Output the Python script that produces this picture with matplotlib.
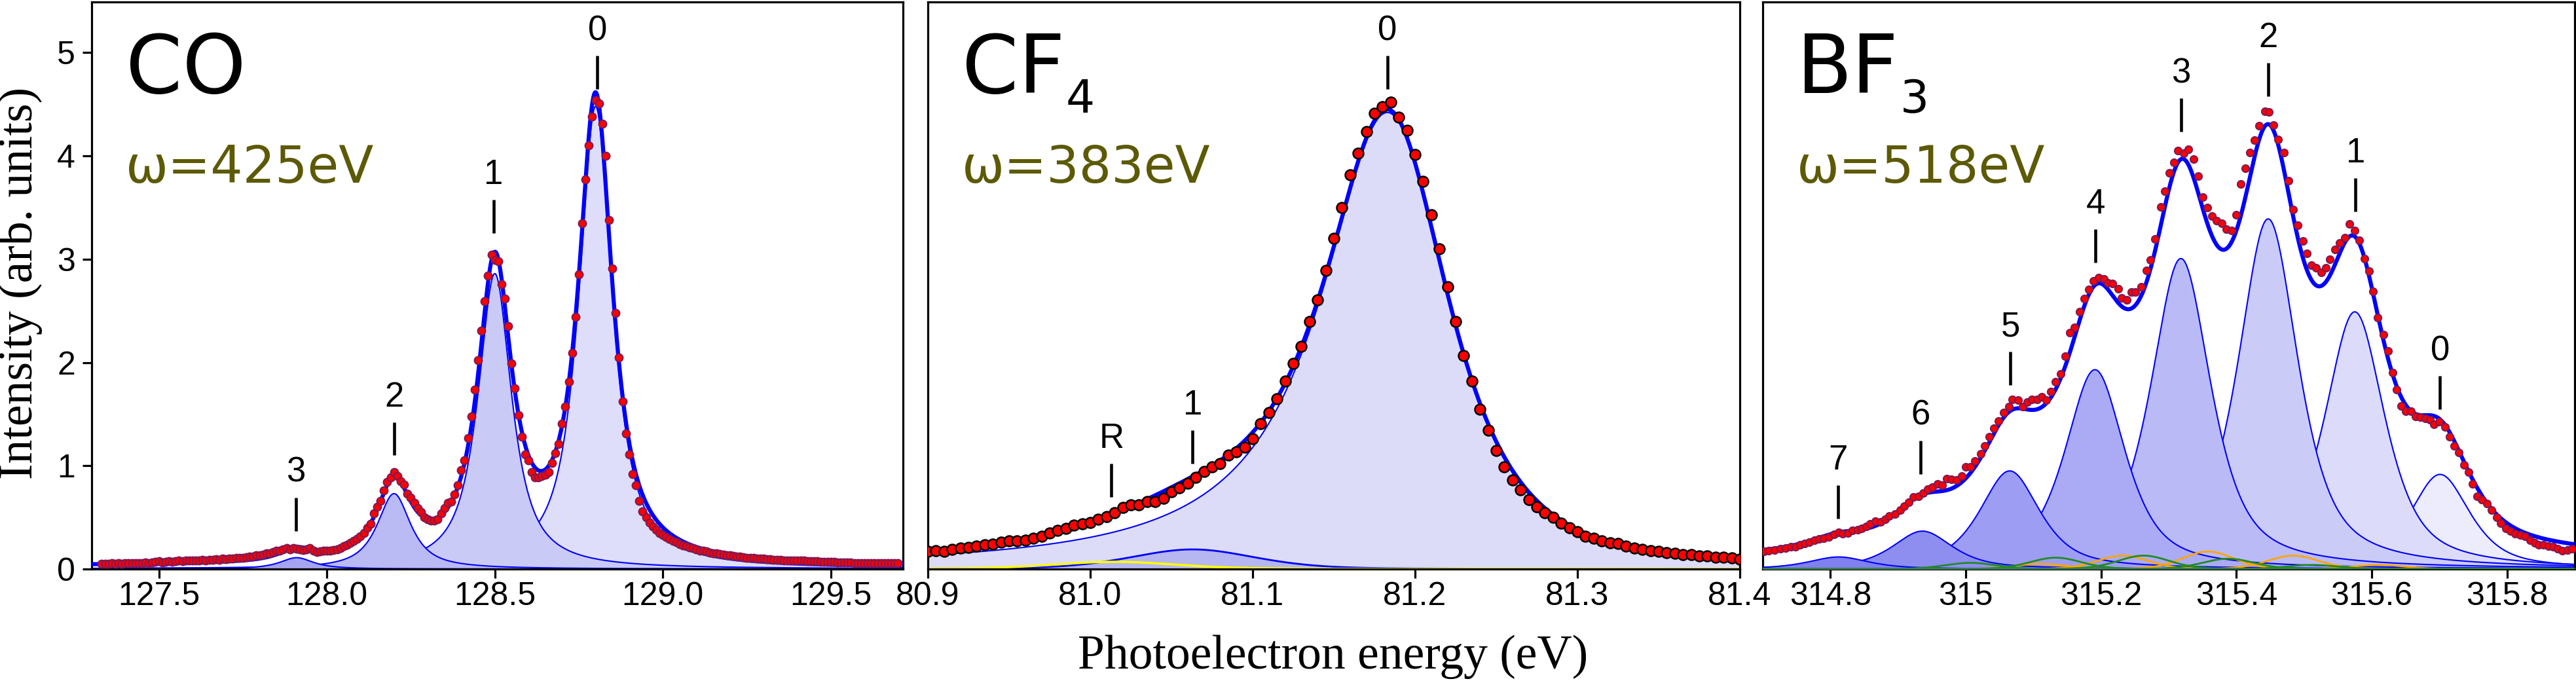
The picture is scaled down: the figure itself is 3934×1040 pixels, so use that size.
import numpy as np
import matplotlib
matplotlib.use("Agg")
import matplotlib.pyplot as plt

# ---------------- CO, omega = 425 eV ----------------
co_e = np.round(np.arange(127.33, 129.705, 0.01), 2)
co_int = [
    0.050, 0.050, 0.050, 0.055, 0.050, 0.055, 0.050, 0.055, 0.060, 0.055,
    0.060, 0.060, 0.060, 0.065, 0.060, 0.065, 0.070, 0.075, 0.065, 0.070,
    0.075, 0.070, 0.075, 0.080, 0.075, 0.080, 0.080, 0.085, 0.080, 0.085,
    0.090, 0.085, 0.090, 0.090, 0.095, 0.090, 0.100, 0.095, 0.100, 0.100,
    0.105, 0.110, 0.110, 0.115, 0.120, 0.120, 0.130, 0.135, 0.140, 0.150,
    0.155, 0.165, 0.175, 0.180, 0.190, 0.200, 0.190, 0.200, 0.195, 0.190,
    0.185, 0.190, 0.200, 0.175, 0.165, 0.170, 0.175, 0.180, 0.180, 0.185,
    0.190, 0.205, 0.220, 0.235, 0.255, 0.270, 0.290, 0.320, 0.350, 0.400,
    0.440, 0.540, 0.600, 0.660, 0.760, 0.840, 0.890, 0.940, 0.900, 0.850,
    0.820, 0.730, 0.690, 0.640, 0.590, 0.550, 0.500, 0.480, 0.470, 0.470,
    0.480, 0.540, 0.590, 0.640, 0.650, 0.720, 0.810, 0.960, 1.050, 1.270,
    1.480, 1.740, 2.020, 2.310, 2.590, 2.840, 3.040, 2.990, 2.980, 2.760,
    2.620, 2.350, 1.990, 1.750, 1.490, 1.280, 1.110, 1.050, 0.940, 0.890,
    0.890, 0.900, 0.910, 0.940, 1.030, 1.120, 1.210, 1.410, 1.570, 1.810,
    2.090, 2.440, 2.850, 3.350, 3.770, 4.100, 4.380, 4.540, 4.510, 4.310,
    4.000, 3.380, 2.910, 2.480, 2.050, 1.620, 1.310, 1.110, 0.920, 0.810,
    0.660, 0.560, 0.500, 0.450, 0.410, 0.380, 0.350, 0.330, 0.310, 0.290,
    0.270, 0.260, 0.240, 0.230, 0.220, 0.210, 0.200, 0.190, 0.180, 0.175,
    0.170, 0.160, 0.155, 0.150, 0.145, 0.140, 0.135, 0.130, 0.125, 0.120,
    0.120, 0.115, 0.110, 0.110, 0.105, 0.100, 0.100, 0.100, 0.095, 0.095,
    0.090, 0.090, 0.090, 0.085, 0.085, 0.085, 0.080, 0.080, 0.080, 0.080,
    0.075, 0.075, 0.075, 0.075, 0.070, 0.070, 0.070, 0.070, 0.070, 0.065,
    0.065, 0.065, 0.065, 0.065, 0.060, 0.060, 0.060, 0.060, 0.060, 0.060,
    0.060, 0.060, 0.055, 0.055, 0.055, 0.055, 0.055, 0.055,
]
# fitted vibrational components v = 0..3 (pseudo-Voigt)
co_pos = [128.80, 128.50, 128.20, 127.91]
co_height = [4.48, 2.86, 0.73, 0.11]
co_hwhm = 0.06
co_eta = 0.9
co_bg = 0.03
co_lab = ["0", "1", "2", "3"]
co_lab_x = [128.805, 128.497, 128.200, 127.908]
co_lab_y = [4.645, 3.25, 1.10, 0.37]   # bottom of the marker bar

# ---------------- CF4, omega = 383 eV ----------------
cf4_e = np.round(np.arange(80.900, 81.4001, 0.005), 3)
cf4_int = [
    0.170, 0.178, 0.170, 0.191, 0.204, 0.212, 0.220, 0.233, 0.241, 0.258,
    0.271, 0.271, 0.279, 0.296, 0.317, 0.346, 0.372, 0.393, 0.422, 0.435,
    0.452, 0.481, 0.506, 0.548, 0.599, 0.620, 0.624, 0.653, 0.653, 0.687,
    0.750, 0.784, 0.830, 0.885, 0.947, 0.990, 1.019, 1.103, 1.137, 1.179,
    1.263, 1.410, 1.515, 1.649, 1.822, 1.990, 2.158, 2.397, 2.607, 2.893,
    3.200, 3.498, 3.818, 4.028, 4.234, 4.410, 4.478, 4.519, 4.372, 4.246,
    4.015, 3.750, 3.431, 3.099, 2.733, 2.397, 2.065, 1.822, 1.548, 1.347,
    1.149, 0.990, 0.863, 0.767, 0.674, 0.603, 0.548, 0.498, 0.443, 0.401,
    0.359, 0.317, 0.296, 0.275, 0.254, 0.246, 0.220, 0.204, 0.191, 0.178,
    0.170, 0.161, 0.149, 0.141, 0.141, 0.128, 0.128, 0.115, 0.115, 0.107,
    0.098,
]
# main line (asymmetric), v=1 and recapture (R) components
cf4_main = dict(c=81.183, h=4.42, wl=0.050, pl=1.0, wr=0.060, pr=1.6)
cf4_v1 = dict(c=81.063, h=0.19, w=0.045, eta=0.3)
cf4_r = dict(c=81.015, h=0.07, w=0.045, eta=0.3)
cf4_bg = 0.02
cf4_lab = ["0", "1", "R"]
cf4_lab_x = [81.183, 81.063, 81.013]
cf4_lab_y = [4.645, 1.02, 0.70]

# ---------------- BF3, omega = 518 eV ----------------
bf3_e = [
    314.702, 314.709, 314.717, 314.726, 314.734, 314.742, 314.748, 314.755, 314.762, 314.769,
    314.776, 314.783, 314.790, 314.798, 314.805, 314.812, 314.818, 314.826, 314.833, 314.840,
    314.846, 314.853, 314.859, 314.866, 314.874, 314.881, 314.887, 314.895, 314.903, 314.909,
    314.916, 314.923, 314.930, 314.937, 314.944, 314.951, 314.958, 314.965, 314.972, 314.979,
    314.986, 314.994, 315.000, 315.007, 315.014, 315.022, 315.028, 315.035, 315.042, 315.048,
    315.056, 315.064, 315.069, 315.077, 315.084, 315.091, 315.098, 315.105, 315.112, 315.119,
    315.126, 315.133, 315.140, 315.147, 315.154, 315.161, 315.168, 315.175, 315.182, 315.189,
    315.196, 315.204, 315.210, 315.217, 315.225, 315.230, 315.238, 315.245, 315.251, 315.259,
    315.267, 315.273, 315.280, 315.288, 315.294,
    315.301, 315.308, 315.314, 315.322, 315.329, 315.337, 315.344, 315.350, 315.357, 315.364,
    315.371, 315.378, 315.385, 315.393, 315.400, 315.406, 315.413, 315.420, 315.427, 315.434,
    315.442, 315.448, 315.455, 315.462, 315.470, 315.477, 315.484, 315.491, 315.498, 315.504,
    315.511, 315.518, 315.525, 315.532, 315.538, 315.546, 315.553, 315.560, 315.567, 315.575,
    315.582, 315.589, 315.596, 315.602, 315.609, 315.617, 315.624, 315.631, 315.637, 315.644,
    315.650, 315.658, 315.665, 315.672, 315.679, 315.686, 315.692, 315.700, 315.708, 315.715,
    315.722, 315.729, 315.736, 315.743, 315.749, 315.756, 315.763, 315.770, 315.777, 315.785,
    315.791, 315.798, 315.805, 315.812, 315.820, 315.826, 315.834, 315.841, 315.847, 315.854,
    315.861, 315.868, 315.875, 315.882, 315.889, 315.896,
]
bf3_int = [
    0.174, 0.180, 0.183, 0.195, 0.204, 0.213, 0.218, 0.233, 0.248, 0.263,
    0.277, 0.289, 0.298, 0.313, 0.336, 0.357, 0.343, 0.351, 0.372, 0.381,
    0.395, 0.410, 0.440, 0.463, 0.454, 0.484, 0.514, 0.534, 0.573, 0.611,
    0.646, 0.699, 0.705, 0.735, 0.773, 0.794, 0.824, 0.809, 0.874, 0.868,
    0.862, 0.903, 0.986, 0.992, 1.045, 1.118, 1.192, 1.281, 1.363, 1.434,
    1.517, 1.570, 1.641, 1.635, 1.570, 1.614, 1.644, 1.644, 1.670, 1.635,
    1.717, 1.812, 1.892, 2.063, 2.290, 2.337, 2.491, 2.617, 2.709, 2.791,
    2.821, 2.809, 2.771, 2.762, 2.712, 2.623, 2.608, 2.682, 2.682, 2.732,
    2.889, 2.992, 3.193, 3.508, 3.656,
    3.835, 3.937, 4.049, 4.025, 4.066, 3.971, 3.801, 3.601, 3.499, 3.414,
    3.370, 3.346, 3.292, 3.278, 3.431, 3.727, 3.879, 4.032, 4.151, 4.293,
    4.433, 4.422, 4.297, 4.161, 4.032, 3.760, 3.479, 3.326, 3.177, 3.054,
    2.939, 2.919, 2.871, 2.919, 2.997, 3.092, 3.156, 3.207, 3.343, 3.275,
    3.183, 3.007, 2.885, 2.691, 2.437, 2.267, 2.114, 1.900, 1.734, 1.578,
    1.530, 1.530, 1.479, 1.469, 1.459, 1.445, 1.401, 1.425, 1.378, 1.283,
    1.191, 1.130, 1.011, 0.936, 0.824, 0.705, 0.672, 0.631, 0.570, 0.502,
    0.441, 0.393, 0.366, 0.342, 0.332, 0.315, 0.281, 0.254, 0.237, 0.237,
    0.223, 0.213, 0.196, 0.179, 0.186, 0.196,
]
# vibrational components v = 0..7
bf3_pos = [315.701, 315.575, 315.447, 315.318, 315.191, 315.065, 314.936, 314.812]
bf3_height = [0.916, 2.49, 3.39, 3.006, 1.93, 0.95, 0.367, 0.117]
bf3_hwhm = 0.053
bf3_eta = 0.7
bf3_bg = 0.09
# weak satellite progressions (drawn as lines only)
bf3_orange_pos = [315.110, 315.232, 315.358, 315.484, 315.610]
bf3_orange_h = [0.05, 0.13, 0.17, 0.13, 0.04]
bf3_green_pos = [315.007, 315.133, 315.263, 315.388, 315.512]
bf3_green_h = [0.06, 0.11, 0.13, 0.10, 0.04]
bf3_sat_hwhm = 0.045
bf3_lab = ["0", "1", "2", "3", "4", "5", "6", "7"]
bf3_lab_x = [315.701, 315.576, 315.447, 315.318, 315.192, 315.066, 314.933, 314.811]
bf3_lab_y = [1.546, 3.46, 4.575, 4.235, 2.97, 1.78, 0.92, 0.49]

co_ticks = [127.5, 128.0, 128.5, 129.0, 129.5]
cf4_ticks = [80.9, 81.0, 81.1, 81.2, 81.3, 81.4]
bf3_ticks = [314.8, 315.0, 315.2, 315.4, 315.6, 315.8]
bf3_ticklabels = ["314.8", "315", "315.2", "315.4", "315.6", "315.8"]

co_fill = ["#dedefa", "#cacaf6", "#babaf4", "#a4a4f0"]
bf3_fill = ["#ececfd", "#dcdcfa", "#cbcbf8", "#babaf6", "#ababf5", "#9d9df3", "#8e8ef1", "#8080ef"]


def pvoigt(x, c, h, w, eta):
    d = (x - c) / w
    return h * (eta / (1 + d * d) + (1 - eta) * np.exp(-np.log(2) * d * d))


def split_line(x, c, h, wl, pl, wr, pr):
    d = x - c
    return h * np.where(d < 0, (1 + (d / wl) ** 2) ** -pl, (1 + (d / wr) ** 2) ** -pr)


BLUE = "#0000ff"
TICKFONT = "Liberation Sans"
BAR_LEN, DIGIT_UP = 0.323, 0.475   # marker bar length / digit baseline above bar bottom

fig = plt.figure(figsize=(39.34, 10.4), dpi=100)
W, H = 3934, 1040
ax1 = fig.add_axes([140 / W, (H - 869) / H, 1239 / W, 866 / H])
ax2 = fig.add_axes([1417 / W, (H - 869) / H, 1240 / W, 866 / H])
ax3 = fig.add_axes([2692 / W, (H - 869) / H, 1240 / W, 866 / H])

for ax in (ax1, ax2, ax3):
    ax.set_ylim(0, 5.49)
    for s in ax.spines.values():
        s.set_linewidth(2.3)
    ax.tick_params(direction="out", length=10, width=2.3, labelsize=36, pad=4)

# ---- CO panel
ax1.set_xlim(127.30, 129.715)
g1 = np.linspace(127.30, 129.715, 2000)
tot = np.full_like(g1, co_bg)
for i, (c, h) in enumerate(zip(co_pos, co_height)):
    y = pvoigt(g1, c, h, co_hwhm, co_eta)
    tot += y
    ax1.fill_between(g1, 0, y, color=co_fill[i], lw=0, zorder=2 + i * 0.1)
    ax1.plot(g1, y, color=BLUE, lw=1.5, zorder=2.05 + i * 0.1)
ax1.plot(g1, tot, color=BLUE, lw=4.5, zorder=5)
ax1.plot(co_e, co_int, "o", ms=8.5, mfc="#ff0000", mec="#7d1b55", mew=1.5, zorder=6)
ax1.set_xticks(co_ticks, [f"{t:.1f}" for t in co_ticks])
ax1.set_yticks([0, 1, 2, 3, 4, 5])
ax1.tick_params(axis="y", pad=8)

# ---- CF4 panel
ax2.set_xlim(80.9, 81.4)
g2 = np.linspace(80.9, 81.4, 2000)
y0 = split_line(g2, **cf4_main)
y1 = pvoigt(g2, cf4_v1["c"], cf4_v1["h"], cf4_v1["w"], cf4_v1["eta"])
yr = pvoigt(g2, cf4_r["c"], cf4_r["h"], cf4_r["w"], cf4_r["eta"])
ax2.fill_between(g2, 0, y0, color="#dcdcf8", lw=0, zorder=2)
ax2.plot(g2, y0, color=BLUE, lw=1.5, zorder=2.05)
ax2.fill_between(g2, 0, y1, color="#b6b6f1", lw=0, zorder=2.1)
ax2.plot(g2, y1, color=BLUE, lw=2, zorder=2.15)
ax2.plot(g2, yr, color="#ffff00", lw=2.5, zorder=2.2)
ax2.plot(g2, y0 + y1 + yr + cf4_bg, color=BLUE, lw=4.5, zorder=5)
ax2.plot(cf4_e, cf4_int, "o", ms=11.5, mfc="#ff0000", mec="black", mew=1.8, zorder=6)
ax2.set_xticks(cf4_ticks, [f"{t:.1f}" for t in cf4_ticks])
ax2.set_yticks([])

# ---- BF3 panel
ax3.set_xlim(314.70, 315.90)
g3 = np.linspace(314.70, 315.90, 2400)
tot3 = np.full_like(g3, bf3_bg)
for i, (c, h) in enumerate(zip(bf3_pos, bf3_height)):
    y = pvoigt(g3, c, h, bf3_hwhm, bf3_eta)
    tot3 += y
    ax3.fill_between(g3, 0, y, color=bf3_fill[i], lw=0, zorder=2 + i * 0.1)
    ax3.plot(g3, y, color=BLUE, lw=1.5, zorder=2.05 + i * 0.1)
for c, h in zip(bf3_orange_pos, bf3_orange_h):
    y = pvoigt(g3, c, h, bf3_sat_hwhm, 0.2)
    tot3 += y
    ax3.plot(g3, y, color="#ffa500", lw=2, zorder=3.5)
for c, h in zip(bf3_green_pos, bf3_green_h):
    y = pvoigt(g3, c, h, bf3_sat_hwhm, 0.2)
    tot3 += y
    ax3.plot(g3, y, color="#228b22", lw=2, zorder=3.5)
ax3.plot(g3, tot3, color=BLUE, lw=4.5, zorder=5)
ax3.plot(bf3_e, bf3_int, "o", ms=8, mfc="#ff0000", mec="#7d1b55", mew=1.5, zorder=6)
ax3.set_xticks(bf3_ticks, bf3_ticklabels)
ax3.set_yticks([])

for ax in (ax1, ax2, ax3):
    for t in ax.get_xticklabels() + ax.get_yticklabels():
        t.set_family(TICKFONT)

# peak labels: digit above a short vertical bar
for ax, labs, xs, ys in ((ax1, co_lab, co_lab_x, co_lab_y),
                         (ax2, cf4_lab, cf4_lab_x, cf4_lab_y),
                         (ax3, bf3_lab, bf3_lab_x, bf3_lab_y)):
    for lab, x, y in zip(labs, xs, ys):
        ax.plot([x, x], [y, y + BAR_LEN], color="black", lw=3.3, solid_capstyle="butt", zorder=7)
        ax.text(x, y + DIGIT_UP, lab, ha="center", va="baseline", fontsize=38,
                family=TICKFONT, zorder=7)

# molecule names (with subscript placed just after the name) and photon energies
for ax, name, sub, omega in ((ax1, "CO", "", "ω=425eV"),
                             (ax2, "CF", "4", "ω=383eV"),
                             (ax3, "BF", "3", "ω=518eV")):
    t = ax.text(0.042, 0.84, name, transform=ax.transAxes, fontsize=89,
                family="DejaVu Sans", va="baseline", ha="left", zorder=8)
    if sub:
        ax.annotate(sub, xy=(1, 0), xycoords=t, xytext=(1, -3), textcoords="offset points",
                    fontsize=50, family="DejaVu Sans", va="baseline", ha="left", zorder=8)
    ax.text(0.042, 0.681, omega, transform=ax.transAxes, fontsize=56,
            family="DejaVu Sans", color="#5c5a05", va="baseline", ha="left", zorder=8)

fig.text(31 / W, (H - 432) / H, "Intensity (arb. units)", rotation=90, ha="center",
         va="center", fontsize=53, family="Liberation Serif")
fig.text(2036 / W, (H - 1021) / H, "Photoelectron energy (eV)", ha="center",
         va="baseline", fontsize=53, family="Liberation Serif")

fig.savefig("out.png", dpi=100)
